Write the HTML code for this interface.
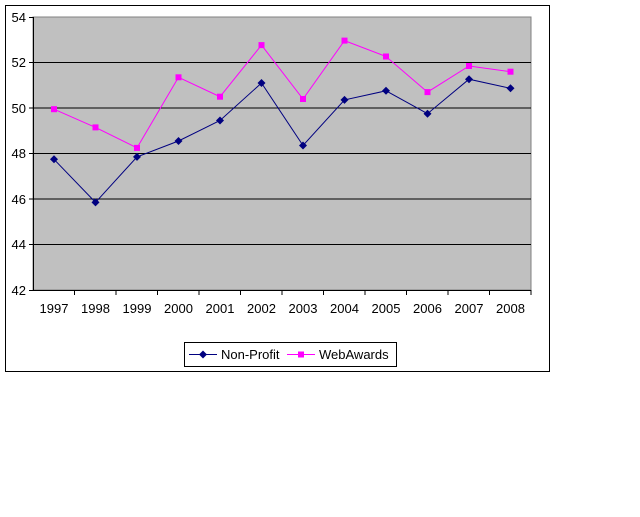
<!DOCTYPE html>
<html><head><style>body{margin:0;background:#fff;}</style></head><body>
<svg width="640" height="512" xmlns="http://www.w3.org/2000/svg" font-family="Liberation Sans, Arial, sans-serif" font-size="13">
<rect x="5.5" y="5.5" width="544" height="366" fill="#fff" stroke="#000"/>
<rect x="33" y="17" width="498" height="273" fill="#c0c0c0" stroke="#808080"/>
<g stroke="#000" stroke-width="1">
<line x1="33" y1="62.5" x2="531" y2="62.5"/>
<line x1="33" y1="108" x2="531" y2="108"/>
<line x1="33" y1="153.5" x2="531" y2="153.5"/>
<line x1="33" y1="199" x2="531" y2="199"/>
<line x1="33" y1="244.5" x2="531" y2="244.5"/>
<line x1="33.5" y1="17" x2="33.5" y2="290"/>
<line x1="29" y1="290.5" x2="531" y2="290.5"/>
<line x1="29" y1="17.5" x2="33" y2="17.5"/><line x1="29" y1="62.5" x2="33" y2="62.5"/><line x1="29" y1="108" x2="33" y2="108"/><line x1="29" y1="153.5" x2="33" y2="153.5"/><line x1="29" y1="199" x2="33" y2="199"/><line x1="29" y1="244.5" x2="33" y2="244.5"/>
</g>
<g stroke="#000">
<line x1="74.5" y1="290" x2="74.5" y2="295"/><line x1="116" y1="290" x2="116" y2="295"/><line x1="157.5" y1="290" x2="157.5" y2="295"/><line x1="199" y1="290" x2="199" y2="295"/><line x1="240.5" y1="290" x2="240.5" y2="295"/><line x1="282" y1="290" x2="282" y2="295"/><line x1="323.5" y1="290" x2="323.5" y2="295"/><line x1="365" y1="290" x2="365" y2="295"/><line x1="406.5" y1="290" x2="406.5" y2="295"/><line x1="448" y1="290" x2="448" y2="295"/><line x1="489.5" y1="290" x2="489.5" y2="295"/><line x1="531" y1="290" x2="531" y2="295"/>
</g>
<g text-anchor="end">
<text x="26" y="22">54</text><text x="26" y="67">52</text><text x="26" y="113">50</text><text x="26" y="158">48</text><text x="26" y="204">46</text><text x="26" y="249">44</text><text x="26" y="295">42</text>
</g>
<g text-anchor="middle">
<text x="54" y="313">1997</text><text x="95.5" y="313">1998</text><text x="137" y="313">1999</text><text x="178.5" y="313">2000</text><text x="220" y="313">2001</text><text x="261.5" y="313">2002</text><text x="303" y="313">2003</text><text x="344.5" y="313">2004</text><text x="386" y="313">2005</text><text x="427.5" y="313">2006</text><text x="469" y="313">2007</text><text x="510.5" y="313">2008</text>
</g>
<polyline fill="none" stroke="#ff00ff" points="54,109.2 95.5,127.4 137,147.9 178.5,77.3 220,96.7 261.5,45.1 303,99 344.5,40.6 386,56.5 427.5,92.1 469,66 510.5,71.7"/>
<g fill="#ff00ff">
<rect x="51" y="106.2" width="6" height="6"/><rect x="92.5" y="124.4" width="6" height="6"/><rect x="134" y="144.9" width="6" height="6"/><rect x="175.5" y="74.3" width="6" height="6"/><rect x="217" y="93.7" width="6" height="6"/><rect x="258.5" y="42.1" width="6" height="6"/><rect x="300" y="96" width="6" height="6"/><rect x="341.5" y="37.6" width="6" height="6"/><rect x="383" y="53.5" width="6" height="6"/><rect x="424.5" y="89.1" width="6" height="6"/><rect x="466" y="63" width="6" height="6"/><rect x="507.5" y="68.7" width="6" height="6"/>
</g>
<polyline fill="none" stroke="#000080" points="54,159.3 95.5,202.4 137,156.9 178.5,141 220,120.5 261.5,83 303,145.5 344.5,99.9 386,90.8 427.5,113.7 469,79.2 510.5,88.3"/>
<g fill="#000080">
<path d="M54,155.3l4,4-4,4-4-4z"/><path d="M95.5,198.4l4,4-4,4-4-4z"/><path d="M137,152.9l4,4-4,4-4-4z"/><path d="M178.5,137l4,4-4,4-4-4z"/><path d="M220,116.5l4,4-4,4-4-4z"/><path d="M261.5,79l4,4-4,4-4-4z"/><path d="M303,141.5l4,4-4,4-4-4z"/><path d="M344.5,95.9l4,4-4,4-4-4z"/><path d="M386,86.8l4,4-4,4-4-4z"/><path d="M427.5,109.7l4,4-4,4-4-4z"/><path d="M469,75.2l4,4-4,4-4-4z"/><path d="M510.5,84.3l4,4-4,4-4-4z"/>
</g>
<rect x="184.5" y="342.5" width="212" height="24" fill="#fff" stroke="#000"/>
<line x1="189" y1="354.5" x2="217" y2="354.5" stroke="#000080"/>
<path d="M203,350.5l4,4-4,4-4-4z" fill="#000080"/>
<text x="221" y="359">Non-Profit</text>
<line x1="287" y1="354.5" x2="315" y2="354.5" stroke="#ff00ff"/>
<rect x="298" y="351.5" width="6" height="6" fill="#ff00ff"/>
<text x="319" y="359">WebAwards</text>
</svg>
</body></html>
